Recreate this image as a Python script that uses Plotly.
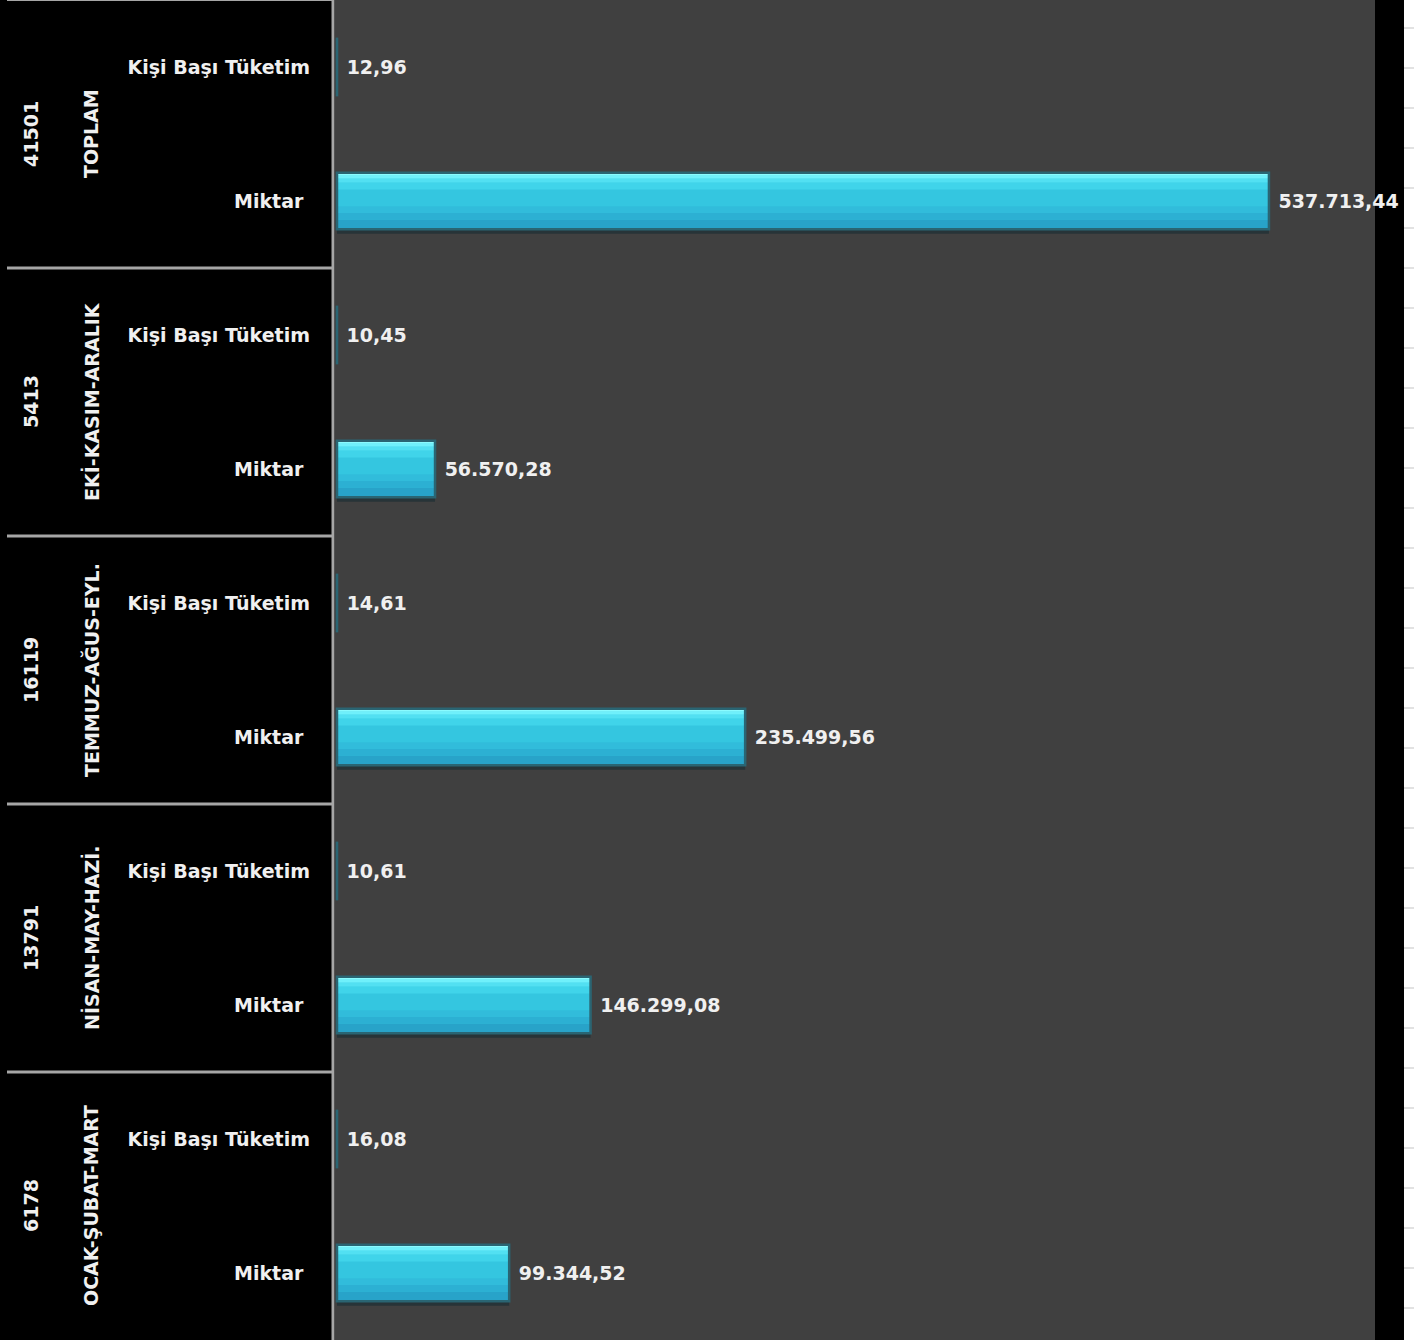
import plotly.graph_objects as go

# ---- data ----
periods = ["OCAK-ŞUBAT-MART", "NİSAN-MAY-HAZİ.", "TEMMUZ-AĞUS-EYL.", "EKİ-KASIM-ARALIK", "TOPLAM"]
counts = ["6178", "13791", "16119", "5413", "41501"]
miktar = [99344.52, 146299.08, 235499.56, 56570.28, 537713.44]
kisi_basi = [16.08, 10.61, 14.61, 10.45, 12.96]
measure_labels = ["Miktar", "Kişi Başı Tüketim"]

W, H = 1414, 1340
FONT = "DejaVu Sans"
FS = 19
TXT = "#f0f0f0"

cats, vals, ticktext = [], [], []
for p, m, k in zip(periods, miktar, kisi_basi):
    cats.append(p + "|Miktar"); vals.append(m); ticktext.append(measure_labels[0] + "\u00a0")
    cats.append(p + "|Kisi"); vals.append(k); ticktext.append(measure_labels[1])

BW = 0.42
fig = go.Figure()

# shadow
fig.add_trace(go.Bar(x=vals, y=cats, orientation="h", width=BW, offset=-BW / 2 - 0.035,
                     marker=dict(color="rgba(38,52,56,0.95)", line=dict(width=0)),
                     hoverinfo="skip", showlegend=False))
# base fill
fig.add_trace(go.Bar(x=vals, y=cats, orientation="h", width=BW, offset=-BW / 2,
                     marker=dict(color="#34c6e0", line=dict(width=0)),
                     hoverinfo="skip", showlegend=False))
# gradient strips (offset from top in units, height in units, colour)
strips = [
    (0.000, 0.022, "#8afbff"),
    (0.022, 0.022, "#6ff0fb"),
    (0.044, 0.030, "#52e0f2"),
    (0.074, 0.050, "#40d4ea"),
    (0.250, 0.050, "#31bcdb"),
    (0.300, 0.050, "#2cb0d3"),
    (0.350, 0.070, "#28a3c9"),
]
for off, h, col in strips:
    fig.add_trace(go.Bar(x=vals, y=cats, orientation="h", width=h, offset=BW / 2 - off - h,
                         marker=dict(color=col, line=dict(width=0)),
                         hoverinfo="skip", showlegend=False))
# outline + value labels
fig.add_trace(go.Bar(x=vals, y=cats, orientation="h", width=BW, offset=-BW / 2,
                     marker=dict(color="rgba(0,0,0,0)", line=dict(color="#2a6573", width=2.5)),
                     texttemplate=" %{x:,.2f}", textposition="outside", cliponaxis=False,
                     constraintext="none",
                     textfont=dict(family=FONT, size=FS, color=TXT, weight="bold"),
                     showlegend=False))

annotations = []
for i, (p, c) in enumerate(zip(periods, counts)):
    yc = 2 * i + 0.5
    annotations.append(dict(x=31 / W, y=yc, xref="paper", yref="y", text=c, textangle=-90,
                            xanchor="center", yanchor="middle", showarrow=False,
                            font=dict(family=FONT, size=FS, color=TXT, weight="bold")))
    annotations.append(dict(x=91 / W, y=yc, xref="paper", yref="y", text=p, textangle=-90,
                            xanchor="center", yanchor="middle", showarrow=False,
                            font=dict(family=FONT, size=FS, color=TXT, weight="bold")))

shapes = []
sep = "#a6a6a6"
for b in [1.5, 3.5, 5.5, 7.5]:
    shapes.append(dict(type="line", xref="paper", yref="y", x0=7 / W, x1=333 / W, y0=b, y1=b,
                       line=dict(color=sep, width=3)))
shapes.append(dict(type="line", xref="paper", yref="paper", x0=7 / W, x1=333 / W, y0=1, y1=1,
                   line=dict(color=sep, width=2)))
shapes.append(dict(type="line", xref="paper", yref="paper", x0=333 / W, x1=333 / W, y0=0, y1=1,
                   line=dict(color=sep, width=3)))
# right spreadsheet strip
shapes.append(dict(type="rect", xref="paper", yref="paper", x0=1404 / W, x1=1, y0=0, y1=1,
                   fillcolor="white", line=dict(width=0), layer="below"))
ypx = 28
while ypx < H:
    shapes.append(dict(type="line", xref="paper", yref="paper", x0=1404 / W, x1=1,
                       y0=1 - ypx / H, y1=1 - ypx / H, line=dict(color="#e2e2e2", width=2)))
    ypx += 40

fig.update_layout(
    width=W, height=H,
    margin=dict(l=0, r=0, t=0, b=0),
    paper_bgcolor="black",
    plot_bgcolor="#404040",
    barmode="overlay",
    separators=",.",
    showlegend=False,
    annotations=annotations,
    shapes=shapes,
    xaxis=dict(domain=[335 / W, 1375 / W], range=[-1150, 598900], showgrid=False,
               zeroline=False, showticklabels=False, ticks="", showline=False, fixedrange=True),
    yaxis=dict(type="category", categoryorder="array", categoryarray=cats,
               tickvals=cats, ticktext=ticktext, range=[-0.5, 9.5],
               showgrid=False, zeroline=False, showline=False, ticks="",
               ticklabelstandoff=24,
               tickfont=dict(family=FONT, size=FS, color=TXT, weight="bold")),
)

fig.write_html("out.html")
